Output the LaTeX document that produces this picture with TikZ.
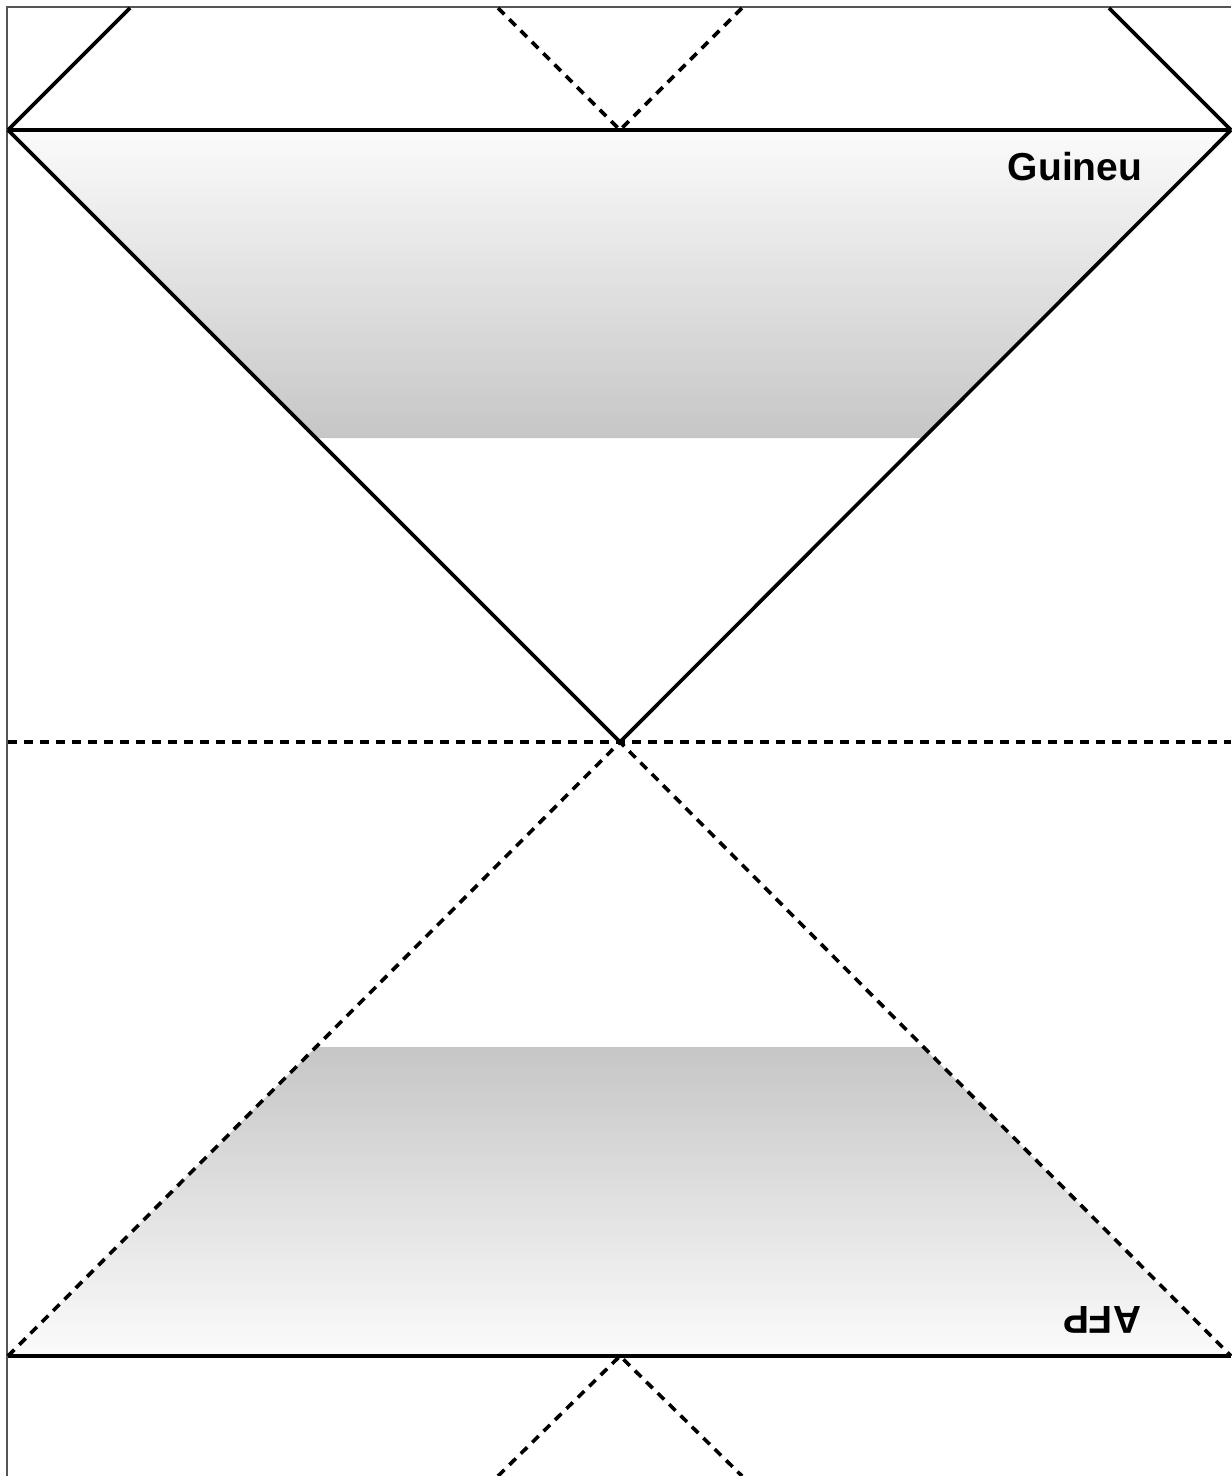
\documentclass[tikz,border=0pt]{standalone}
\usepackage{fontspec}
\setmainfont{Liberation Sans}
\usetikzlibrary{calc}
\definecolor{framegray}{HTML}{555555}
\definecolor{shadelight}{HTML}{FBFBFB}
\definecolor{shadedark}{HTML}{C6C6C6}

\tikzset{
  horizon/.style={black, line width=1.8pt},
  nullray/.style={black, line width=1.8pt, dash pattern=on 4.5pt off 3.5pt},
  patchlabel/.style={font=\fontsize{19.5}{22}\selectfont\bfseries, inner sep=0pt}
}

\begin{document}
\begin{tikzpicture}[x=0.5pt, y=-0.5pt]
  \useasboundingbox (0,0) rectangle (1231,1476);

  % corner points of the diagram
  \coordinate (ul) at (8,130);
  \coordinate (ur) at (1231,130);
  \coordinate (ll) at (8,1356);
  \coordinate (lr) at (1231,1356);
  \coordinate (mid) at (620,742);
  \coordinate (ml) at (8,742);
  \coordinate (mr) at (1231,742);
  \coordinate (topc) at (620,130);
  \coordinate (botc) at (620,1356);

  % shaded patches
  \shade[top color=shadelight, bottom color=shadedark]
    (ul) -- (ur) -- (923,438) -- (316,438) -- cycle;
  \shade[top color=shadedark, bottom color=shadelight]
    (316,1047) -- (923,1047) -- (lr) -- (ll) -- cycle;

  % frame
  \draw[framegray, line width=0.9pt] (7,1476) -- (7,7) -- (1231,7);

  % solid lines
  \draw[horizon] (ul) -- (ur);
  \draw[horizon] (ll) -- (lr);
  \draw[horizon] (ul) -- (mid) -- (ur);
  \draw[horizon] (ul) -- (130,8);
  \draw[horizon] (ur) -- (1109,8);

  % dashed lines
  \draw[nullray] (ml) -- (mr);
  \draw[nullray] (ll) -- (mid) -- (lr);
  \draw[nullray] (498,8) -- (topc) -- (742,8);
  \draw[nullray] (498,1476) -- (botc) -- (742,1476);

  % labels
  \node[patchlabel] (guineu) at (1075,167) {Guineu};
  \node[patchlabel, rotate=180] (afp) at (1102,1320) {AFP};
\end{tikzpicture}
\end{document}
